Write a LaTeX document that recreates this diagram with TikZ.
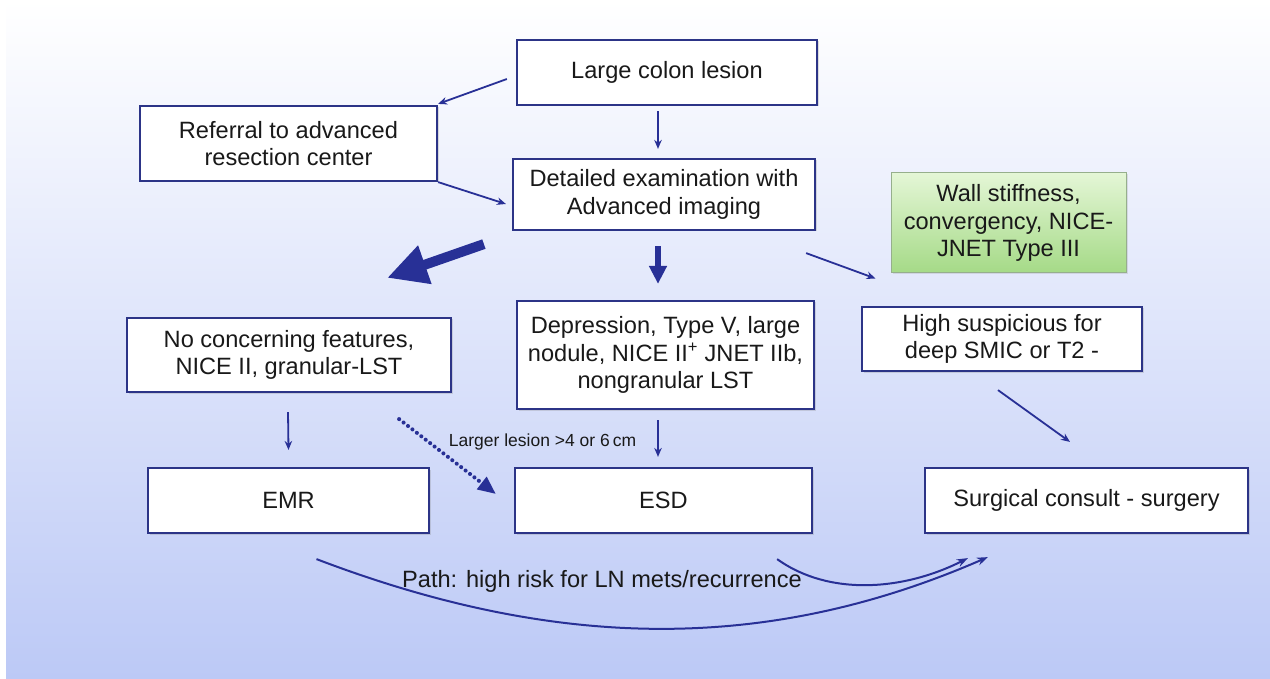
\documentclass[tikz,border=0pt]{standalone}
\usepackage{fontspec}
\setmainfont{Liberation Sans}
\usetikzlibrary{arrows.meta,shadows}
\definecolor{navy}{RGB}{44,52,135}
\definecolor{arr}{RGB}{40,48,150}
\definecolor{bgm}{RGB}{224,229,250}
\definecolor{bgb}{RGB}{188,201,246}
\definecolor{gtop}{RGB}{228,246,214}
\definecolor{gbot}{RGB}{165,218,135}
\definecolor{gbord}{RGB}{150,175,140}
\definecolor{txt}{RGB}{25,25,25}
\begin{document}
\begin{tikzpicture}[x=1pt,y=-1pt,
  box/.style={draw=navy, line width=2.2pt, fill=white, text=txt, align=center,
    inner sep=0pt, font=\fontsize{23.6}{27.5}\selectfont,
    drop shadow={shadow xshift=1.5pt,shadow yshift=-1.5pt,opacity=0.25}},
  greenbox/.style={draw=gbord, line width=1pt, top color=gtop, bottom color=gbot,
    text=txt, align=center, inner sep=0pt, font=\fontsize{23.6}{27.5}\selectfont,
    drop shadow={shadow xshift=1.5pt,shadow yshift=-1.5pt,opacity=0.2}},
  thinarrow/.style={draw=arr, line width=1.8pt, -{Stealth[length=9pt,width=7.5pt]}},
  bigarrow/.style={draw=arr, fill=arr, line width=10pt, -{Triangle[length=40pt,width=38pt]}},
  medarrow/.style={draw=arr, fill=arr, line width=5.5pt, -{Triangle[length=18pt,width=17pt]}},
  dotarrow/.style={draw=arr, line width=4pt, line cap=round, dash pattern=on 0.1pt off 5.5pt,
    -{Triangle[length=18pt,width=15pt]}},
  curvearrow/.style={draw=arr, line width=2pt, -{Stealth[length=11pt,width=8pt]}},
  lbl/.style={text=txt, inner sep=0pt}
]
\useasboundingbox (0,0) rectangle (1270,679);
\fill[white] (0,0) rectangle (1270,679);
\shade[top color=white, middle color=bgm, bottom color=bgb] (6,0) rectangle (1270,679);

\node[box, minimum width=300pt, minimum height=65pt] (large) at (667,72.5) {Large colon lesion};
\node[box, minimum width=297pt, minimum height=75pt] (refer) at (288.5,143.5) {Referral to advanced\\resection center};
\node[box, minimum width=302pt, minimum height=71pt] (detail) at (664,194.5) {Detailed examination with\\Advanced imaging};
\node[greenbox, minimum width=235pt, minimum height=100pt] (wall) at (1008.5,223) {Wall stiffness,\\convergency, NICE-\\JNET Type III};
\node[box, minimum width=324pt, minimum height=74pt] (nocon) at (289,355) {No concerning features,\\NICE II, granular-LST};
\node[box, minimum width=297pt, minimum height=108pt] (depr) at (665.5,355) {Depression, Type V, large\\nodule, NICE II\textsuperscript{+} JNET IIb,\\nongranular LST};
\node[box, minimum width=280pt, minimum height=64pt] (high) at (1002,339) {High suspicious for\\deep SMIC or T2 -};
\node[box, minimum width=281pt, minimum height=65pt] (emr) at (288.5,500.5) {EMR};
\node[box, minimum width=297pt, minimum height=65pt] (esd) at (663.5,500.5) {ESD};
\node[box, minimum width=323pt, minimum height=65pt] (surg) at (1086.5,500.5) {Surgical consult - surgery};

\draw[thinarrow] ([shift={(-9,6.5)}]large.west) -- ([shift={(0,-1)}]refer.north east);
\draw[thinarrow] ([shift={(-9,5)}]large.south) -- ([shift={(-6,-9)}]detail.north);
\draw[thinarrow] (refer.south east) -- ([shift={(-6,9.5)}]detail.west);
\draw[bigarrow] ([shift={(-28,13)}]detail.south west) -- ([shift={(-65,-39)}]nocon.north east);
\draw[medarrow] ([shift={(-6,15)}]detail.south) -- ([shift={(-7.5,-16)}]depr.north);
\draw[thinarrow] ([shift={(-10,22)}]detail.south east) -- ([shift={(-15,5)}]wall.south west);
\draw[thinarrow] ([shift={(-1,19)}]nocon.south) -- ([shift={(0,-17)}]emr.north);
\draw[dotarrow] ([shift={(-53,26)}]nocon.south east) -- ([shift={(-18,-6.5)}]esd.west);
\node[lbl, font=\fontsize{17.5}{20}\selectfont, anchor=base] (larger) at (542.5,446) {Larger lesion >4 or 6\,cm};
\draw[thinarrow] ([shift={(-7.5,10)}]depr.south) -- ([shift={(-5.5,-10)}]esd.north);
\draw[thinarrow] ([shift={(-4,18)}]high.south) -- ([shift={(-16.5,-25)}]surg.north);

\draw[curvearrow] ([shift={(28,25)}]emr.south) .. controls (560,652) and (770,652) .. ([shift={(64,23)}]surg.south west);
\draw[curvearrow] ([shift={(-36,25)}]esd.south east) .. controls (830,597) and (905,590) .. ([shift={(44,24)}]surg.south west);
\node[lbl, font=\fontsize{23.6}{28}\selectfont, anchor=base] (path) at (602,587) {Path: high risk for LN mets/recurrence};
\end{tikzpicture}
\end{document}
